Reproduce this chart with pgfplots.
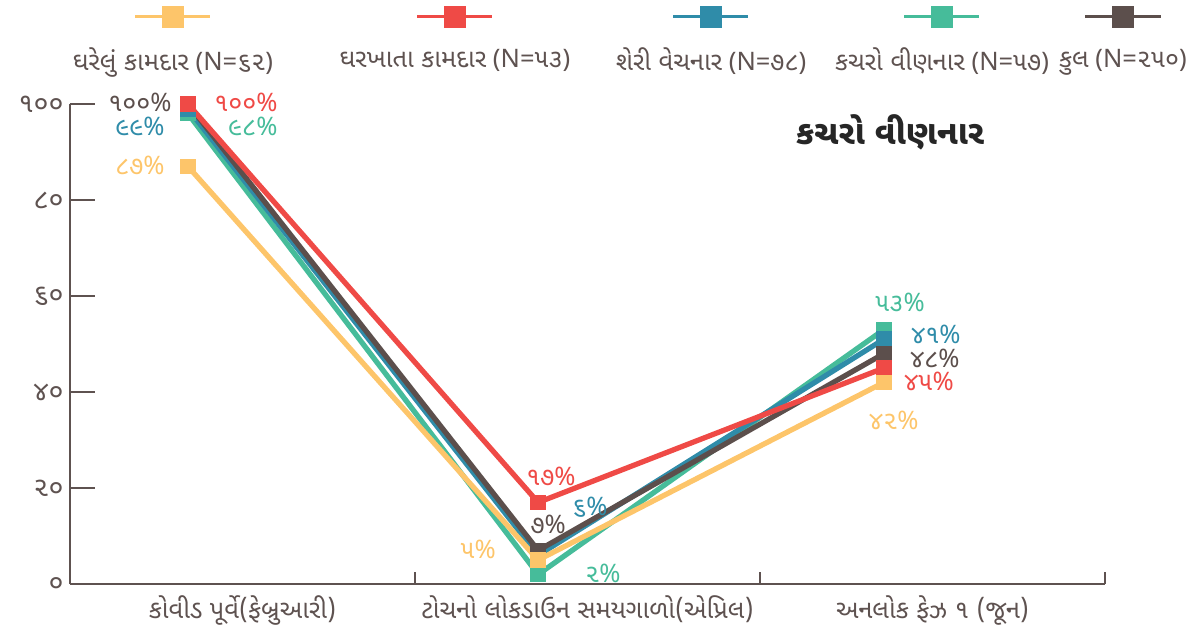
\documentclass[border=0pt]{standalone}
\usepackage{pgfplots}
\pgfplotsset{compat=1.18}
\usepackage{fontspec}
\setmainfont{Noto Sans}
\newfontfamily\guj[Script=Gujarati]{Noto Sans Gujarati UI}
\definecolor{cY}{HTML}{FDC56A}
\definecolor{cR}{HTML}{EF4A46}
\definecolor{cB}{HTML}{2F8CA9}
\definecolor{cG}{HTML}{46BC9A}
\definecolor{cD}{HTML}{5C4F4C}
\definecolor{axc}{HTML}{5E5250}
\pgfplotsset{
  legimg/.style={legend image code/.code={
    \draw[overlay,##1,line width=1.7pt,mark=none] (#1-0.75cm,0.86cm) -- (#1+0.75cm,0.86cm);
    \fill[overlay,##1] (#1-0.17cm,0.69cm) rectangle (#1+0.17cm,1.03cm);
  }},
  ser/.style={color=#1, line width=3pt, mark=square*, mark size=4.2pt,
    mark options={fill=#1, draw=#1, line width=0pt, solid}},
}
\begin{document}
\begin{tikzpicture}
\begin{axis}[
  scale only axis, width=20.7cm, height=9.6cm,
  xmin=0, xmax=3, ymin=0, ymax=100,
  clip=false,
  axis x line*=bottom, axis y line*=left,
  axis line style={-, line width=1.6pt, color=axc},
  tick align=inside,
  major tick length=0pt, minor tick length=0.24cm,
  ytick={0,20,40,60,80,100},
  yticklabels={{\guj ૦},{\guj ૨૦},{\guj ૪૦},{\guj ૬૦},{\guj ૮૦},{\guj ૧૦૦}},
  ytick style={line width=1.6pt, color=axc, /pgfplots/major tick length=0.5cm},
  yticklabel style={font=\fontsize{15.5}{17}\selectfont},
  xtick={0.5,1.5,2.5},
  xticklabels={{\guj કોવીડ પૂર્વે(ફેબ્રુઆરી)},{\guj ટોચનો લોકડાઉન સમયગાળો(એપ્રિલ)},{\guj અનલોક ફેઝ ૧ (જૂન)}},
  minor xtick={1,2,3},
  xtick style={line width=1.6pt, color=axc},
  xticklabel style={yshift=-0.1cm},
  ticklabel style={font=\fontsize{14.5}{16}\selectfont, text=axc},
  legend columns=5,
  legend style={draw=none, fill=none, inner sep=0pt, outer sep=0pt,
    column sep=0pt,
    /tikz/every even column/.style={column sep=0pt},
    /tikz/every odd column/.style={column sep=0pt},
    nodes={inner sep=0pt, text=axc, font=\fontsize{14.5}{16}\selectfont},
    at={(axis description cs:-0.0435,1.0917)}, anchor=west},
]
\addlegendimage{ser=cY, legimg=2.96cm}
\addlegendentry{\makebox[5.92cm][c]{{\guj ઘરેલું કામદાર} (N={\guj ૬૨})}}
\addlegendimage{ser=cR, legimg=2.68cm}
\addlegendentry{\makebox[5.36cm][c]{{\guj ઘરખાતા કામદાર} (N={\guj ૫૩})}}
\addlegendimage{ser=cB, legimg=2.44cm}
\addlegendentry{\makebox[4.88cm][c]{{\guj શેરી વેચનાર} (N={\guj ૭૮})}}
\addlegendimage{ser=cG, legimg=2.18cm}
\addlegendentry{\makebox[4.36cm][c]{{\guj કચરો વીણનાર} (N={\guj ૫૭})}}
\addlegendimage{ser=cD, legimg=1.44cm}
\addlegendentry{\makebox[2.88cm][c]{{\guj કુલ} (N={\guj ૨૫૦})}}

\addplot[ser=cG, forget plot] coordinates {(0.342,98) (1.357,2) (2.359,53)};
\addplot[ser=cB, forget plot] coordinates {(0.342,99) (1.357,6) (2.359,51)};
\addplot[ser=cD, forget plot] coordinates {(0.342,100) (1.357,7) (2.359,48)};
\addplot[ser=cR, forget plot] coordinates {(0.342,100) (1.357,17) (2.359,45)};
\addplot[ser=cY, forget plot] coordinates {(0.342,87) (1.357,5) (2.359,42)};

\begin{scope}[every node/.style={font=\fontsize{14.5}{16}\selectfont, inner sep=0.5pt}]
\node[text=cD] at (axis cs:0.203,100.4) {{\guj ૧૦૦}\%};
\node[text=cR] at (axis cs:0.510,100.4) {{\guj ૧૦૦}\%};
\node[text=cB] at (axis cs:0.203,95.4) {{\guj ૯૯}\%};
\node[text=cG] at (axis cs:0.530,95.4) {{\guj ૯૮}\%};
\node[text=cY] at (axis cs:0.203,87.3) {{\guj ૮૭}\%};
\node[text=cR] at (axis cs:1.394,22.5) {{\guj ૧૭}\%};
\node[text=cB] at (axis cs:1.507,16.0) {{\guj ૬}\%};
\node[text=cD] at (axis cs:1.386,12.5) {{\guj ૭}\%};
\node[text=cY] at (axis cs:1.183,7.3) {{\guj ૫}\%};
\node[text=cG] at (axis cs:1.545,2.2) {{\guj ૨}\%};
\node[text=cG] at (axis cs:2.406,58.75) {{\guj ૫૩}\%};
\node[text=cB] at (axis cs:2.510,52.1) {{\guj ૪૧}\%};
\node[text=cD] at (axis cs:2.507,47.1) {{\guj ૪૮}\%};
\node[text=cR] at (axis cs:2.490,42.2) {{\guj ૪૫}\%};
\node[text=cY] at (axis cs:2.388,34.0) {{\guj ૪૨}\%};
\end{scope}
\node[text=black!85, font=\fontsize{19}{23}\selectfont\guj\bfseries] at (axis cs:2.377,94.2) {કચરો વીણનાર};
\path (axis description cs:-0.0676,-0.110) (axis description cs:1.0937,1.2167);
\end{axis}
\end{tikzpicture}
\end{document}
